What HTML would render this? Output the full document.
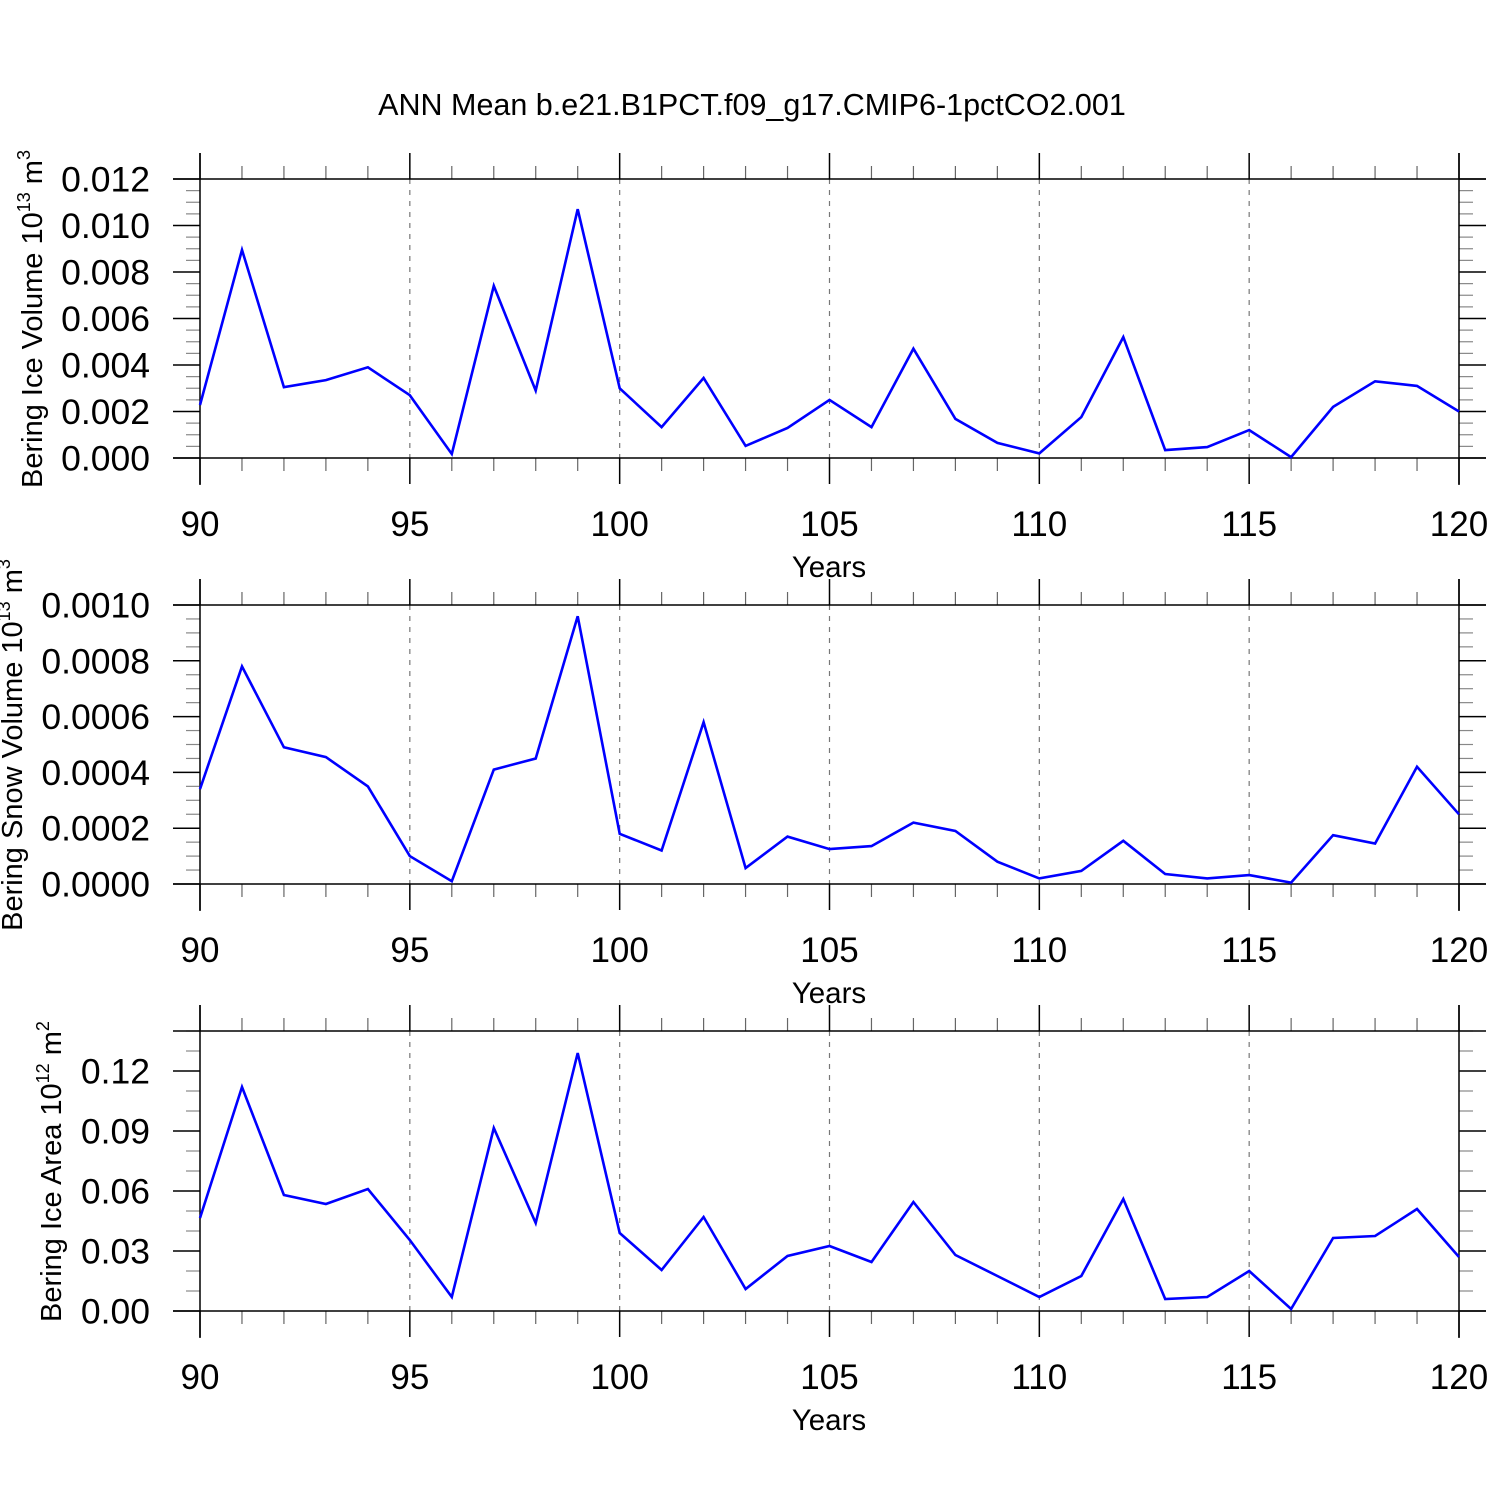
<!DOCTYPE html>
<html><head><meta charset="utf-8"><style>
html,body{margin:0;padding:0;background:#fff;}
svg{display:block;font-family:"Liberation Sans",sans-serif;}
</style></head><body>
<svg id="chart" width="1500" height="1500" xmlns="http://www.w3.org/2000/svg">
<text x="752" y="115" font-size="30.5" text-anchor="middle">ANN Mean b.e21.B1PCT.f09_g17.CMIP6-1pctCO2.001</text>
</svg>
<script>
const years = [90,91,92,93,94,95,96,97,98,99,100,101,102,103,104,105,106,107,108,109,110,111,112,113,114,115,116,117,118,119,120];
const iceVolume = [0.00228,0.00895,0.00305,0.00335,0.0039,0.0027,0.00017,0.0074,0.0029,0.0107,0.0030,0.00133,0.00344,0.00052,0.00129,0.0025,0.00133,0.0047,0.00168,0.00065,0.0002,0.00176,0.0052,0.00034,0.00047,0.0012,0.00004,0.0022,0.0033,0.0031,0.002];
const snowVolume = [0.00034,0.00078,0.00049,0.000455,0.00035,0.0001,0.00001,0.00041,0.00045,0.00096,0.00018,0.00012,0.00058,0.000057,0.00017,0.000125,0.000136,0.00022,0.00019,0.00008,0.00002,0.000047,0.000155,0.000036,0.00002,0.000032,0.000005,0.000175,0.000145,0.00042,0.00025];
const iceArea = [0.0465,0.112,0.058,0.0535,0.061,0.0355,0.007,0.0915,0.044,0.129,0.039,0.0205,0.047,0.011,0.0275,0.0325,0.0245,0.0545,0.028,0.0175,0.007,0.0175,0.056,0.006,0.007,0.02,0.001,0.0365,0.0375,0.051,0.027];
const xTicks = [90,95,100,105,110,115,120];
const iceVolTicks = ["0.000","0.002","0.004","0.006","0.008","0.010","0.012"];
const snowVolTicks = ["0.0000","0.0002","0.0004","0.0006","0.0008","0.0010"];
const iceAreaTicks = ["0.00","0.03","0.06","0.09","0.12"];

const svg = document.getElementById('chart');
const NS = 'http://www.w3.org/2000/svg';
function mk(tag, attrs, parent){const e=document.createElementNS(NS,tag);for(const k in attrs)e.setAttribute(k,attrs[k]);(parent||svg).appendChild(e);return e;}

const X0=200, X1=1459, XMIN=90, XMAX=120;
function xs(v){return X0+(v-XMIN)/(XMAX-XMIN)*(X1-X0);}

const panels = [
 {key:'ice-volume', top:179, bot:458, ymin:0, ymax:0.012, major:0.002, minor:0.0005, data:iceVolume, ticks:iceVolTicks, title:'Bering Ice Volume 10', sup:'13', unit:' m', usup:'3', tx:42},
 {key:'snow-volume', top:605, bot:884, ymin:0, ymax:0.001, major:0.0002, minor:0.00005, data:snowVolume, ticks:snowVolTicks, title:'Bering Snow Volume 10', sup:'13', unit:' m', usup:'3', tx:22},
 {key:'ice-area', top:1031, bot:1311, ymin:0, ymax:0.14, major:0.03, minor:0.01, data:iceArea, ticks:iceAreaTicks, title:'Bering Ice Area 10', sup:'12', unit:' m', usup:'2', tx:61}
];

panels.forEach(p=>{
  const g = mk('g',{});
  
  
  const ys = v => p.bot-(v-p.ymin)/(p.ymax-p.ymin)*(p.bot-p.top);
  const T=p.top-26, B=p.bot+27;
  xTicks.slice(1,-1).forEach(t=>{
    const l=mk('line',{x1:xs(t),x2:xs(t),y1:p.top,y2:p.bot,stroke:'#777','stroke-width':1.2,'stroke-dasharray':'5,6'},g);
    
    
  });
  for(let v=XMIN; v<=XMAX; v++){
    const maj = v%5===0;
    const len = maj?26:13;
    mk('line',{x1:xs(v),x2:xs(v),y1:p.top,y2:p.top-len,stroke:maj?'#000':'#666','stroke-width':maj?1.5:1.2},g);
    mk('line',{x1:xs(v),x2:xs(v),y1:p.bot,y2:p.bot+len,stroke:maj?'#000':'#666','stroke-width':maj?1.5:1.2},g);
  }
  const nMin = Math.round((p.ymax-p.ymin)/p.minor);
  const ratio = Math.round(p.major/p.minor);
  for(let i=0;i<=nMin;i++){
    const v=p.ymin+i*p.minor; const y=ys(v);
    const maj = i%ratio===0;
    const len = maj?27:14;
    mk('line',{x1:X0,x2:X0-len,y1:y,y2:y,stroke:maj?'#000':'#888','stroke-width':maj?1.5:1.2},g);
    mk('line',{x1:X1,x2:X1+len,y1:y,y2:y,stroke:maj?'#000':'#888','stroke-width':maj?1.5:1.2},g);
  }
  mk('line',{x1:X0,x2:X0,y1:T,y2:B,stroke:'#000','stroke-width':1.5},g);
  mk('line',{x1:X1,x2:X1,y1:T,y2:B,stroke:'#000','stroke-width':1.5},g);
  mk('line',{x1:X0-27,x2:X1+27,y1:p.top,y2:p.top,stroke:'#000','stroke-width':1.5},g);
  mk('line',{x1:X0-27,x2:X1+27,y1:p.bot,y2:p.bot,stroke:'#000','stroke-width':1.5},g);
  p.ticks.forEach(s=>{
    const t=mk('text',{x:150,y:ys(parseFloat(s))+12.5,'font-size':35.5,'text-anchor':'end'},g);
    
    
    t.textContent=s;
  });
  xTicks.forEach(v=>{
    const t=mk('text',{x:xs(v),y:p.bot+78,'font-size':35,'text-anchor':'middle'},g);
    
    
    t.textContent=v;
  });
  const xt=mk('text',{x:829,y:p.bot+119,'font-size':29.5,'text-anchor':'middle'},g);
  
  
  xt.textContent='Years';
  const cy=(T+B)/2;
  const yt=mk('text',{x:0,y:0,'font-size':29,'text-anchor':'middle',transform:`translate(${p.tx},${cy}) rotate(-90)`},g);
  
  
  const a=mk('tspan',{},yt); a.textContent=p.title;
  const b=mk('tspan',{dy:-12,'font-size':18},yt); b.textContent=p.sup;
  const c=mk('tspan',{dy:12},yt); c.textContent=p.unit;
  const d=mk('tspan',{dy:-12,'font-size':18},yt); d.textContent=p.usup;
  const pts = years.map((yr,i)=>xs(yr).toFixed(1)+','+ys(p.data[i]).toFixed(1)).join(' ');
  const pl=mk('polyline',{points:pts,fill:'none',stroke:'#0000ff','stroke-width':2.6,'stroke-linejoin':'miter'},g);
  
  
});
</script>
</body></html>
